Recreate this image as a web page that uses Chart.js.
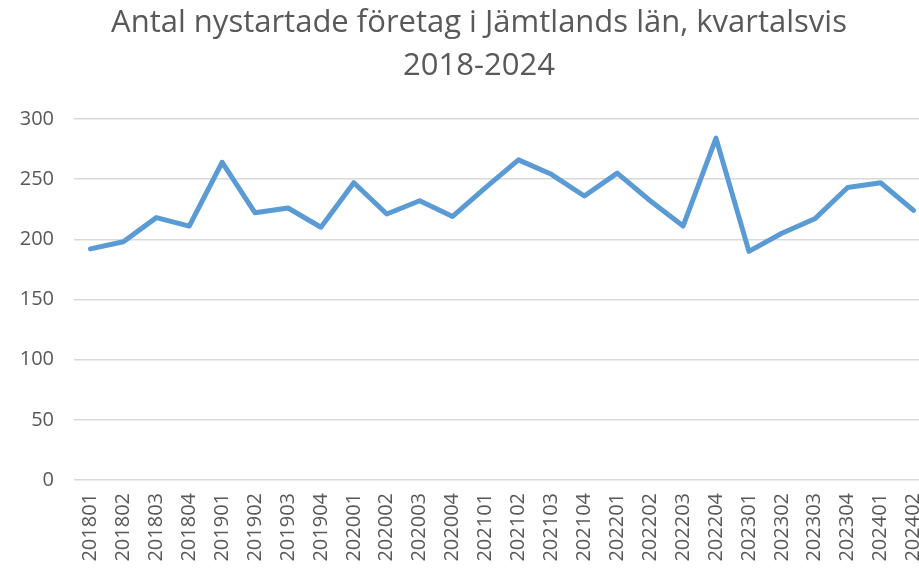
<!DOCTYPE html>
<html>
<head>
<meta charset="utf-8">
<script src="https://cdn.jsdelivr.net/npm/chart.js@4/dist/chart.umd.min.js"></script>
<style>
    body { margin: 0; overflow: hidden; background: #ffffff; }
    #wrap { width: 958px; height: 568px; }
</style>
</head>
<body>
<div id="wrap"><canvas id="startup-chart" width="958" height="568"></canvas></div>
<script>
var quarters = [
    '201801', '201802', '201803', '201804',
    '201901', '201902', '201903', '201904',
    '202001', '202002', '202003', '202004',
    '202101', '202102', '202103', '202104',
    '202201', '202202', '202203', '202204',
    '202301', '202302', '202303', '202304',
    '202401', '202402'
];

var newCompanies = [
    192, 198, 218, 211,
    264, 222, 226, 210,
    247, 221, 232, 219,
    243, 266, 254, 236,
    255, 232, 211, 284,
    190, 205, 217, 243,
    247, 224
];

var yTicks = [0, 50, 100, 150, 200, 250, 300];

var titleLines = ['Antal nystartade företag i Jämtlands län, kvartalsvis', '2018-2024'];

var textColor = '#595959';
var fontName = '"Open Sans", "Liberation Sans", sans-serif';

var ctx = document.getElementById('startup-chart');

var data = {
    labels: quarters,
    datasets: [{
        data: newCompanies,
        borderColor: '#5b9bd5',
        backgroundColor: '#5b9bd5',
        borderWidth: 5,
        borderJoinStyle: 'round',
        borderCapStyle: 'round',
        pointRadius: 0,
        tension: 0,
        fill: false
    }]
};

var options = {
    responsive: false,
    animation: false,
    layout: {
        padding: 0
    },
    plugins: {
        legend: { display: false },
        tooltip: { enabled: false },
        title: {
            display: true,
            text: titleLines,
            color: textColor,
            font: { family: fontName, size: 31, weight: 'normal', lineHeight: 1.37 },
            padding: { top: 2, bottom: 32 }
        }
    },
    scales: {
        x: {
            offset: true,
            grid: { display: false, drawTicks: false },
            border: { display: false },
            ticks: {
                color: textColor,
                font: { family: fontName, size: 20 },
                minRotation: 90,
                maxRotation: 90,
                autoSkip: false,
                padding: 13
            },
            afterFit: function(scale) { scale.height = 88; }
        },
        y: {
            min: 0,
            max: 300,
            afterBuildTicks: function(scale) {
                scale.ticks = yTicks.map(function(v) { return { value: v }; });
            },
            grid: { color: '#d9d9d9', lineWidth: 1.5, drawTicks: false },
            border: { display: false },
            ticks: {
                color: textColor,
                font: { family: fontName, size: 20 },
                padding: 20
            },
            afterFit: function(scale) { scale.width = 74; }
        },
        // empty strip on the right so the title centres like the original
        spacer: {
            position: 'right',
            grid: { display: false, drawTicks: false },
            border: { display: false },
            ticks: { display: false },
            afterFit: function(scale) { scale.width = 28; }
        }
    }
};

var myLineChart = new Chart(ctx, {
    type: 'line',
    data: data,
    options: options
});
</script>
</body>
</html>
